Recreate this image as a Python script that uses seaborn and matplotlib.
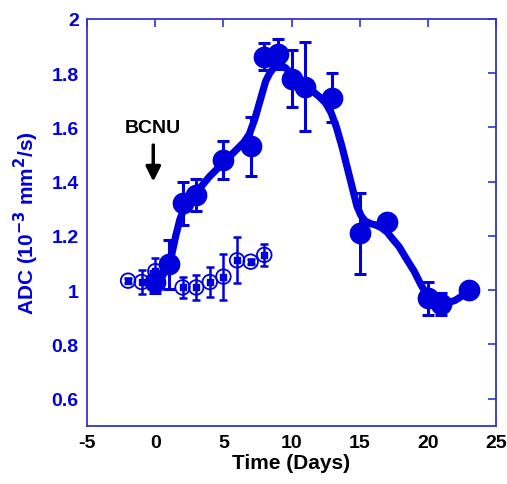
import numpy as np
import pandas as pd
import seaborn as sns
import matplotlib.pyplot as plt

# treated group (filled circles)
treat_day = [0, 1, 2, 3, 5, 7, 8, 9, 10, 11, 13, 15, 17, 20, 21, 23]
treat_adc = [1.03, 1.095, 1.32, 1.35, 1.48, 1.53, 1.86, 1.87, 1.78, 1.75, 1.71, 1.21, 1.25, 0.97, 0.95, 1.0]
treat_err = [0.04, 0.09, 0.08, 0.06, 0.07, 0.11, 0.05, 0.055, 0.105, 0.165, 0.09, 0.15, 0.02, 0.06, 0.04, 0.02]

# control group (open circles)
ctrl_day = [-2, -1, 0, 2, 3, 4, 5, 6, 7, 8]
ctrl_adc = [1.035, 1.03, 1.07, 1.01, 1.01, 1.03, 1.05, 1.11, 1.105, 1.13]
ctrl_err = [0.01, 0.045, 0.05, 0.04, 0.045, 0.055, 0.085, 0.085, 0.01, 0.04]

# smooth fit through treated data
fit_day = [0, 0.5, 0.9, 1.2, 1.5, 1.8, 2.1, 2.5, 3, 3.5, 4, 4.5, 5, 5.5, 6, 6.5, 6.9, 7.3,
           7.7, 8.1, 8.4, 8.7, 9, 9.3, 9.6, 10, 10.5, 11, 11.5, 12, 12.5, 12.9, 13.3, 13.7,
           14.1, 14.5, 14.8, 15.1, 15.4, 15.8, 16.2, 16.6, 17, 17.4, 17.9, 18.5, 19, 19.5,
           20, 20.5, 21, 21.5, 22, 22.5, 23]
fit_adc = [1.03, 1.05, 1.085, 1.13, 1.20, 1.26, 1.30, 1.33, 1.36, 1.39, 1.42, 1.445, 1.47,
           1.495, 1.52, 1.545, 1.575, 1.63, 1.70, 1.77, 1.80, 1.82, 1.83, 1.828, 1.818, 1.795,
           1.77, 1.75, 1.735, 1.715, 1.69, 1.655, 1.60, 1.53, 1.45, 1.37, 1.31, 1.275, 1.255,
           1.245, 1.24, 1.23, 1.215, 1.19, 1.16, 1.11, 1.07, 1.02, 0.978, 0.962, 0.955, 0.955,
           0.962, 0.978, 1.0]

blue = "#0000dd"
spine_blue = "#3434c8"

sns.set_style("white")
plt.rcParams["font.family"] = ["Liberation Sans", "DejaVu Sans"]
plt.rcParams["font.weight"] = "bold"
plt.rcParams["mathtext.default"] = "bf"
plt.rcParams["axes.unicode_minus"] = False

fig = plt.figure(figsize=(5.07, 4.85), dpi=100)
ax = fig.add_axes([0.172, 0.12, 0.806, 0.839])

fit_df = pd.DataFrame({"day": fit_day, "adc": fit_adc})
sns.lineplot(data=fit_df, x="day", y="adc", color=blue, linewidth=5.2, ax=ax, zorder=3,
             solid_joinstyle="round", solid_capstyle="round")

ax.errorbar(treat_day, treat_adc, yerr=treat_err, fmt="none", ecolor=blue,
            elinewidth=2.2, capsize=4, capthick=2.2, zorder=2)
sns.scatterplot(x=treat_day, y=treat_adc, color=blue, s=210, edgecolor=blue, ax=ax, zorder=4)

ax.errorbar(ctrl_day, ctrl_adc, yerr=ctrl_err, fmt="none", ecolor=blue,
            elinewidth=1.8, capsize=3, capthick=1.8, zorder=2)
ax.scatter(ctrl_day, ctrl_adc, s=110, facecolors="none", edgecolors=blue, linewidths=1.3, zorder=4)
ax.scatter(ctrl_day, ctrl_adc, s=14, marker="s", color=blue, zorder=4)

ax.text(-0.15, 1.60, "BCNU", ha="center", va="center", fontsize=14, fontweight="bold", color="black")
ax.annotate("", xy=(-0.15, 1.39), xytext=(-0.15, 1.545),
            arrowprops=dict(arrowstyle="-|>", color="black", lw=2.5, mutation_scale=22))

ax.set_xlim(-5, 25)
ax.set_ylim(0.5, 2)
ax.set_xticks([-5, 0, 5, 10, 15, 20, 25])
ax.set_yticks([0.6, 0.8, 1, 1.2, 1.4, 1.6, 1.8, 2])
ax.set_yticklabels(["0.6", "0.8", "1", "1.2", "1.4", "1.6", "1.8", "2"])
ax.tick_params(direction="in", length=6, width=1.2, color=spine_blue,
               top=True, right=True, labelsize=14)
ax.tick_params(axis="y", labelcolor=blue, pad=6)
ax.tick_params(axis="x", labelcolor="black", pad=6)
for s in ax.spines.values():
    s.set_color(spine_blue)
    s.set_linewidth(1.3)

ax.set_xlabel("Time (Days)", fontsize=15, fontweight="bold", color="black", labelpad=1)
ax.set_ylabel("ADC (10$^{-3}$ mm$^{2}$/s)", fontsize=15, fontweight="bold",
              color=blue, labelpad=8)

fig.savefig("out.png", dpi=100)
